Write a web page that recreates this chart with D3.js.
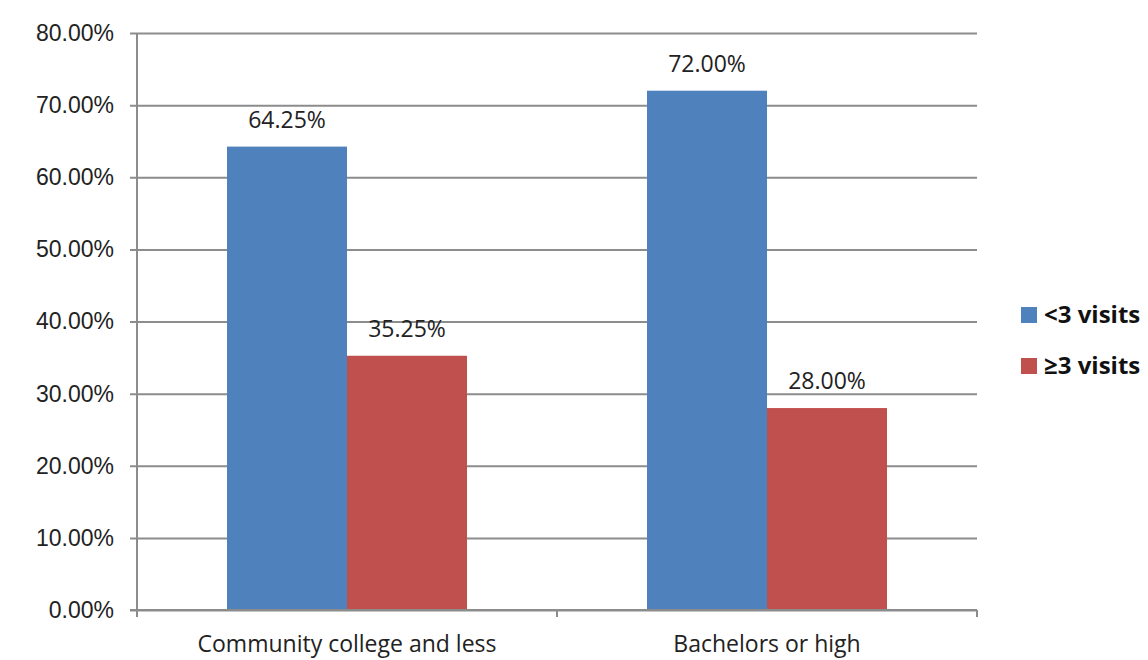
<!DOCTYPE html>
<html>
<head>
<meta charset="utf-8">
<script src="https://cdn.jsdelivr.net/npm/d3@7"></script>
<style>
  html, body { margin: 0; padding: 0; background: #fff; }
  svg { display: block; font-family: "Open Sans", "Noto Sans", sans-serif; }
</style>
</head>
<body>
<svg id="chart" width="1148" height="660"></svg>
<script>
// Share of respondents by education level and number of visits
const categories = ["Community college and less", "Bachelors or high"];
const seriesNames = ["<3 visits", "\u22653 visits"];
const lessThan3 = [64.25, 72.00];
const atLeast3 = [35.25, 28.00];
const yTicks = [0, 10, 20, 30, 40, 50, 60, 70, 80];
const colors = ["#4F81BD", "#C0504D"];

const series = [lessThan3, atLeast3];
const svg = d3.select("#chart");
const m = { left: 137, right: 977, top: 33, bottom: 610 };

const x = d3.scaleBand().domain(categories).range([m.left, m.right]).paddingInner(0).paddingOuter(0);
const xSub = d3.scaleBand().domain(seriesNames).range([0, x.bandwidth()]).paddingInner(0).paddingOuter(0.75);
const y = d3.scaleLinear().domain([0, 80]).range([m.bottom, m.top]);

const gridColor = "#8c8c8c";
const fontSize = "23px";

// horizontal gridlines with small outside ticks
const yAxis = d3.axisLeft(y).tickValues(yTicks).tickFormat(d => d.toFixed(2) + "%")
  .tickSize(-(m.right - m.left)).tickPadding(23);
const gy = svg.append("g").attr("transform", `translate(${m.left},0)`).call(yAxis);
gy.select(".domain").remove();
gy.selectAll(".tick line").attr("x1", -7).attr("stroke", gridColor).attr("stroke-width", 2);
gy.selectAll(".tick text").attr("fill", "#222").style("font-size", fontSize);

// bars with value labels
categories.forEach((c, i) => {
  series.forEach((vals, s) => {
    const bx = x(c) + xSub(seriesNames[s]);
    svg.append("rect")
      .attr("x", bx).attr("width", xSub.bandwidth())
      .attr("y", y(vals[i])).attr("height", y(0) - y(vals[i]))
      .attr("fill", colors[s]);
    svg.append("text")
      .attr("x", bx + xSub.bandwidth() / 2).attr("y", y(vals[i]) - 19)
      .attr("text-anchor", "middle").attr("fill", "#222").style("font-size", fontSize)
      .text(vals[i].toFixed(2) + "%");
  });
});

// left vertical axis line
svg.append("line").attr("x1", m.left).attr("x2", m.left)
  .attr("y1", m.top).attr("y2", m.bottom).attr("stroke", gridColor).attr("stroke-width", 2);

// bottom axis with category separators
const gx = svg.append("g").attr("transform", `translate(0,${m.bottom})`);
gx.append("line").attr("x1", m.left - 7).attr("x2", m.right).attr("stroke", gridColor).attr("stroke-width", 2);
const seps = [m.left].concat(categories.map(c => x(c) + x.bandwidth()));
gx.selectAll("line.sep").data(seps).join("line").attr("class", "sep")
  .attr("x1", d => d).attr("x2", d => d).attr("y1", 0).attr("y2", 7)
  .attr("stroke", gridColor).attr("stroke-width", 2);
gx.selectAll("text").data(categories).join("text")
  .attr("x", d => x(d) + x.bandwidth() / 2).attr("y", 42)
  .attr("text-anchor", "middle").attr("fill", "#222").style("font-size", fontSize)
  .text(d => d);

// legend
const lg = svg.append("g").attr("transform", "translate(1021,307)");
seriesNames.forEach((name, i) => {
  const row = lg.append("g").attr("transform", `translate(0,${i * 51})`);
  row.append("rect").attr("width", 16).attr("height", 16).attr("fill", colors[i]);
  row.append("text").attr("x", 23).attr("y", 16).attr("fill", "#111")
    .style("font-size", "24px").style("font-weight", "bold").text(name);
});
</script>
</body>
</html>
